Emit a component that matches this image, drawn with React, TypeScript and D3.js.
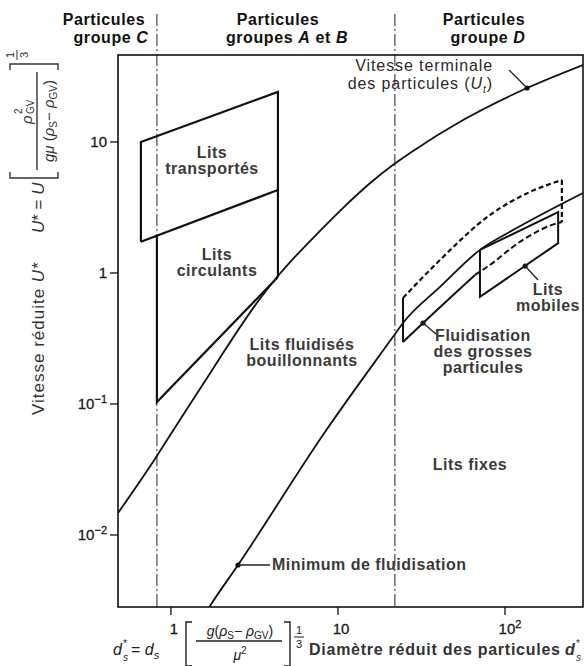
import React from "react";
import * as d3 from "d3";

// ---------- data ----------
const xTicks = [1, 10, 100];
const xTickBase = ["1", "10", "10"];
const xTickExp = ["", "", "2"];
const yTicks = [10, 1, 0.1, 0.01];
const yTickBase = ["10", "1", "10", "10"];
const yTickExp = ["", "", "−1", "−2"];

const xExtent = [0.482, 293];
const yExtent = [0.00282, 46.1];

// group boundaries (d*)
const groupBoundaries = [0.824, 21.9];

// [d*, U*]
const terminalVelocity: [number, number][] = [
  [0.482, 0.0147], [0.824, 0.0401], [1.13, 0.0755], [1.49, 0.13], [3.51, 0.667],
  [4.32, 0.931], [8.13, 2.21], [10.7, 3.13], [15.6, 4.86], [21.3, 6.67],
  [27.0, 8.24], [56.1, 14.7], [135.5, 25.8], [293, 38.7],
];
const minFluidisation: [number, number][] = [
  [1.6, 0.00251], [1.76, 0.00303], [2.52, 0.0059], [8.36, 0.0611], [21.3, 0.324],
  [24.5, 0.415], [40.8, 0.782], [70.8, 1.5], [118, 2.21], [293, 4.08],
];
const transportedBox: [number, number][] = [
  [0.661, 1.73], [0.661, 10], [4.37, 24.1], [4.37, 0.931],
];
const transportedLower: [number, number][] = [[0.661, 1.73], [4.37, 4.3]];
const circulatingBox: [number, number][] = [[0.824, 1.92], [0.824, 0.1035], [4.37, 0.931]];
const coarseTop: [number, number][] = [
  [24.5, 0.644], [40.8, 1.256], [81.3, 2.77], [141, 4.15], [219, 5.13],
];
const coarseRight: [number, number][] = [[219, 5.13], [219, 2.45]];
const coarseLeft: [number, number][] = [[24.5, 0.644], [24.5, 0.297]];
const coarseBottomSolid: [number, number][] = [
  [24.5, 0.297], [32.3, 0.415], [66.1, 0.966],
];
const coarseBottomDashed: [number, number][] = [
  [66.1, 0.966], [78.0, 1.11], [128, 1.79], [208, 2.41], [219, 2.45],
];
const movingBox: [number, number][] = [
  [70.8, 1.5], [208, 2.92], [208, 1.69], [70.8, 0.656], [70.8, 1.5],
];
const markers: [number, number][] = [[135.5, 25.8], [2.52, 0.0059], [32.3, 0.415], [132, 1.13]];

// ---------- layout ----------
const W = 588, H = 666;
const L = 118, R = 583, T = 55, B = 607;

const FONT = "'Liberation Sans', Arial, Helvetica, sans-serif";

export default function App() {
  const x = d3.scaleLog().domain(xExtent).range([L, R]);
  const y = d3.scaleLog().domain(yExtent).range([B, T]);
  const line = d3.line<[number, number]>().x(d => x(d[0])).y(d => y(d[1]));
  const curve = d3.line<[number, number]>().x(d => x(d[0])).y(d => y(d[1])).curve(d3.curveMonotoneX);

  const [utDot, mfDot, cgDot, mbDot] = markers.map(m => [x(m[0]), y(m[1])]);
  const lab = { fontFamily: FONT, fontWeight: 700, fontSize: 16, fill: "#3a3a3a", letterSpacing: 0.5 } as any;
  const head = { fontFamily: FONT, fontWeight: 700, fontSize: 16, fill: "#111", letterSpacing: 0.6 } as any;

  return (
    <svg width={W} height={H} style={{ position: "absolute", left: 0, top: 0, background: "#fff" }}>
      <defs>
        <clipPath id="plot"><rect x={L} y={T} width={R - L} height={B - T} /></clipPath>
      </defs>
      <rect x={0} y={0} width={W} height={H} fill="#fff" />

      {/* group boundaries */}
      {groupBoundaries.map((g, i) => (
        <line key={i} x1={x(g)} x2={x(g)} y1={14} y2={B} stroke="#555" strokeWidth={1.3} strokeDasharray="12,3,2,3" />
      ))}

      {/* headers */}
      <g style={head} textAnchor="middle">
        <text x={104} y={25}>Particules</text>
        <text x={111} y={43}>groupe <tspan fontStyle="italic">C</tspan></text>
        <text x={278} y={25}>Particules</text>
        <text x={287} y={43}>groupes <tspan fontStyle="italic">A</tspan> et <tspan fontStyle="italic">B</tspan></text>
        <text x={484} y={25}>Particules</text>
        <text x={488} y={43}>groupe <tspan fontStyle="italic">D</tspan></text>
      </g>

      {/* frame */}
      <rect x={L} y={T} width={R - L} height={B - T} fill="none" stroke="#111" strokeWidth={1.6} />

      {/* ticks */}
      {yTicks.map((t, i) => (
        <g key={i}>
          <line x1={L - 8} x2={L} y1={y(t)} y2={y(t)} stroke="#111" strokeWidth={1.3} />
          <text x={L - 11} y={y(t) + 5} textAnchor="end" fontFamily={FONT} fontSize={15} fill="#1a1a1a" stroke="#1a1a1a" strokeWidth={0.3}>
            {yTickBase[i]}{yTickExp[i] && <tspan fontSize={11} dy={-6}>{yTickExp[i]}</tspan>}
          </text>
        </g>
      ))}
      {xTicks.map((t, i) => (
        <g key={i}>
          <line x1={x(t)} x2={x(t)} y1={B} y2={B + 8} stroke="#111" strokeWidth={1.3} />
          <text x={x(t) + (xTickExp[i] ? 5 : 3)} y={B + 27} textAnchor="middle" fontFamily={FONT} fontSize={15} fill="#1a1a1a" stroke="#1a1a1a" strokeWidth={0.3}>
            {xTickBase[i]}{xTickExp[i] && <tspan fontSize={11} dy={-6}>{xTickExp[i]}</tspan>}
          </text>
        </g>
      ))}

      {/* curves */}
      <g clipPath="url(#plot)" fill="none" stroke="#111" strokeWidth={1.8}>
        <path d={curve(terminalVelocity)!} />
        <path d={curve(minFluidisation)!} />
        <path d={line(transportedBox)!} strokeWidth={2.2} />
        <path d={line(transportedLower)!} strokeWidth={2.2} />
        <path d={line(circulatingBox)!} strokeWidth={2.2} />
        <path d={curve(coarseTop)!} strokeWidth={2.2} strokeDasharray="5,3" />
        <path d={line(coarseRight)!} strokeWidth={2.2} strokeDasharray="5,3" />
        <path d={line(coarseLeft)!} strokeWidth={2} />
        <path d={curve(coarseBottomSolid)!} strokeWidth={2} />
        <path d={curve(coarseBottomDashed)!} strokeWidth={2} strokeDasharray="6,3" />
        <path d={line(movingBox)!} strokeWidth={2} />
      </g>
      {[utDot, mfDot, cgDot, mbDot].map((p, i) => (
        <circle key={i} cx={p[0]} cy={p[1]} r={2.6} fill="#111" />
      ))}

      {/* leaders */}
      <g stroke="#222" strokeWidth={1.3} fill="none">
        <line x1={509} y1={70} x2={utDot[0]} y2={utDot[1]} />
        <line x1={mfDot[0]} y1={mfDot[1]} x2={270} y2={mfDot[1]} />
        <line x1={cgDot[0]} y1={cgDot[1]} x2={436} y2={334} />
        <line x1={mbDot[0]} y1={mbDot[1]} x2={538} y2={280} />
      </g>

      {/* region labels */}
      <g style={lab} textAnchor="middle">
        <text x={212} y={158}>Lits</text>
        <text x={212} y={174}>transportés</text>
        <text x={217} y={260}>Lits</text>
        <text x={217} y={276}>circulants</text>
        <text x={302} y={350}>Lits fluidisés</text>
        <text x={302} y={366}>bouillonnants</text>
        <text x={548} y={295}>Lits</text>
        <text x={548} y={311}>mobiles</text>
        <text x={483} y={341}>Fluidisation</text>
        <text x={483} y={357}>des grosses</text>
        <text x={483} y={373}>particules</text>
        <text x={470} y={470}>Lits fixes</text>
      </g>
      <text x={272} y={570} style={lab} letterSpacing={0.9}>Minimum de fluidisation</text>
      <g fontFamily={FONT} fontSize={16} fill="#2a2a2a" textAnchor="end" letterSpacing={0.9}>
        <text x={493} y={71}>Vitesse terminale</text>
        <text x={493} y={89}>des particules (<tspan fontStyle="italic">U</tspan><tspan fontSize={10} dy={4} fontStyle="italic">t</tspan><tspan dy={-4}>)</tspan></text>
      </g>

      {/* y-axis title (rotated) */}
      <g transform="rotate(-90)" fontFamily={FONT} fill="#333" fontSize={17}>
        <text x={-415} y={44} letterSpacing={1}>Vitesse réduite <tspan fontStyle="italic">U</tspan>*</text>
        <text x={-233} y={44}><tspan fontStyle="italic">U</tspan>* = <tspan fontStyle="italic">U</tspan></text>
        <g stroke="#333" strokeWidth={1.4} fill="none">
          <path d="M -172 10 L -178 10 L -178 58 L -172 58" />
          <path d="M -70 10 L -64 10 L -64 58 L -70 58" />
          <line x1={-170} x2={-72} y1={37} y2={37} />
          <line x1={-60} x2={-50} y1={17} y2={17} strokeWidth={1} />
        </g>
        <text x={-124} y={32} fontStyle="italic" fontSize={15}>ρ</text>
        <text x={-114} y={22} fontSize={10}>2</text>
        <text x={-114} y={34} fontSize={10}>GV</text>
        <text x={-121} y={54} fontSize={15} textAnchor="middle"><tspan fontStyle="italic">gμ</tspan> (<tspan fontStyle="italic">ρ</tspan><tspan fontSize={10} dy={3}>S</tspan><tspan dy={-3}>− </tspan><tspan fontStyle="italic">ρ</tspan><tspan fontSize={10} dy={3}>GV</tspan><tspan dy={-3}>)</tspan></text>
        <text x={-55} y={14} fontSize={11} textAnchor="middle">1</text>
        <text x={-55} y={28} fontSize={11} textAnchor="middle">3</text>
      </g>

      {/* x-axis title */}
      <g fontFamily={FONT} fill="#222" fontSize={16}>
        <text x={113} y={655} fontStyle="italic">d</text>
        <text x={123} y={647} fontSize={10}>*</text>
        <text x={123} y={661} fontSize={10} fontStyle="italic">s</text>
        <text x={131} y={655}>= <tspan fontStyle="italic">d</tspan><tspan fontSize={11} dy={4} fontStyle="italic">s</tspan></text>
        <g stroke="#222" strokeWidth={1.4} fill="none">
          <path d="M 192 622 L 186 622 L 186 666 L 192 666" />
          <path d="M 284 622 L 290 622 L 290 666 L 284 666" />
          <line x1={196} x2={282} y1={641} y2={641} />
          <line x1={294} x2={304} y1={637} y2={637} strokeWidth={1} />
        </g>
        <text x={240} y={636} fontSize={14} textAnchor="middle"><tspan fontStyle="italic">g</tspan>(<tspan fontStyle="italic">ρ</tspan><tspan fontSize={10} dy={3}>S</tspan><tspan dy={-3}>− </tspan><tspan fontStyle="italic">ρ</tspan><tspan fontSize={10} dy={3}>GV</tspan><tspan dy={-3}>)</tspan></text>
        <text x={240} y={660} fontSize={14} textAnchor="middle"><tspan fontStyle="italic">μ</tspan><tspan fontSize={10} dy={-6}>2</tspan></text>
        <text x={299} y={634} fontSize={11} textAnchor="middle">1</text>
        <text x={299} y={648} fontSize={11} textAnchor="middle">3</text>
        <text x={309} y={655} fontWeight={700} fontSize={16} fill="#333" textLength={251} lengthAdjust="spacing">Diamètre réduit des particules</text>
        <text x={565} y={655} fontWeight={700} fontSize={16} fill="#333" fontStyle="italic">d</text>
        <text x={576} y={647} fontSize={10} fill="#333">*</text>
        <text x={576} y={661} fontSize={10} fontStyle="italic" fill="#333">s</text>
      </g>
    </svg>
  );
}
